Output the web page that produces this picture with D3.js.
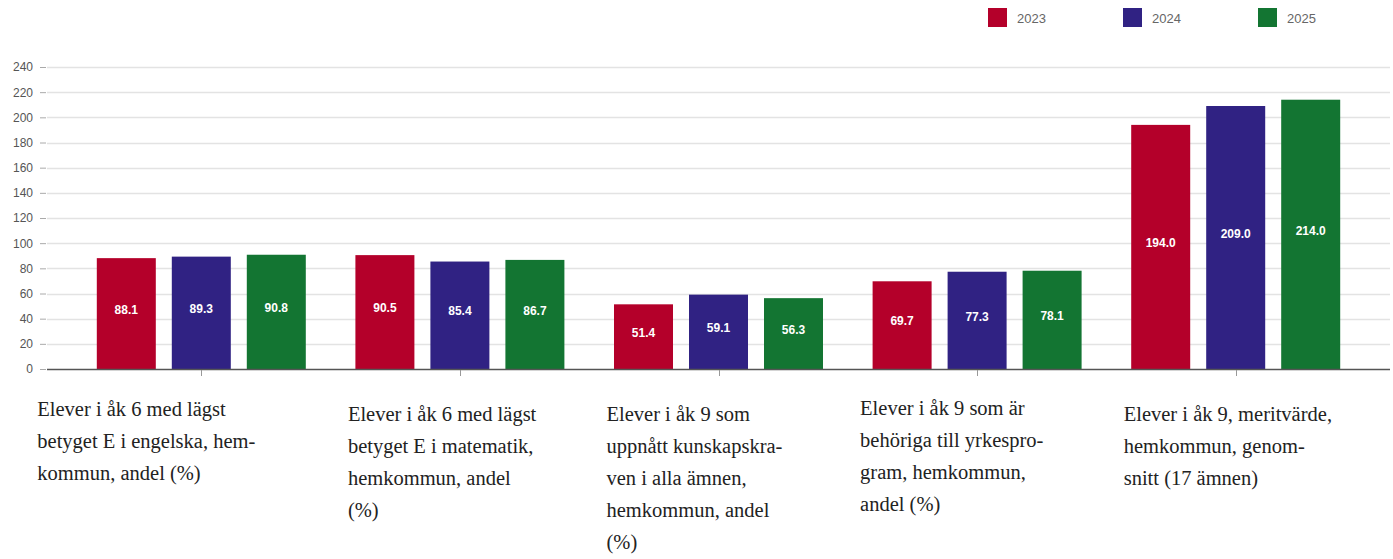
<!DOCTYPE html>
<html lang="sv">
<head>
<meta charset="utf-8">
<title>Elever, hemkommun</title>
<script src="https://d3js.org/d3.v7.min.js"></script>
<style>
  body { margin: 0; background: #fff; }
  .tick text { font-family: "Liberation Sans", Arial, sans-serif; font-size: 12px; fill: #555; }
  .catlabel { font-family: "Liberation Serif", "Times New Roman", serif; font-size: 20.5px; fill: #222; }
  .val { font-family: "Liberation Sans", Arial, sans-serif; font-size: 12px; font-weight: bold; fill: #fff; }
  .legend text { font-family: "Liberation Sans", Arial, sans-serif; font-size: 13px; fill: #666; }
</style>
</head>
<body>
<div id="chart"></div>
<script>
// data
var categories = ["c1", "c2", "c3", "c4", "c5"];
var categoryLabels = [
  ["Elever i åk 6 med lägst", "betyget E i engelska, hem-", "kommun, andel (%)"],
  ["Elever i åk 6 med lägst", "betyget E i matematik,", "hemkommun, andel", "(%)"],
  ["Elever i åk 9 som", "uppnått kunskapskra-", "ven i alla ämnen,", "hemkommun, andel", "(%)"],
  ["Elever i åk 9 som är", "behöriga till yrkespro-", "gram, hemkommun,", "andel (%)"],
  ["Elever i åk 9, meritvärde,", "hemkommun, genom-", "snitt (17 ämnen)"]
];
var years = ["2023", "2024", "2025"];
var values2023 = [88.1, 90.5, 51.4, 69.7, 194.0];
var values2024 = [89.3, 85.4, 59.1, 77.3, 209.0];
var values2025 = [90.8, 86.7, 56.3, 78.1, 214.0];
var yTicks = [0, 20, 40, 60, 80, 100, 120, 140, 160, 180, 200, 220, 240];
var colors = ["#b4002a", "#302283", "#137532"];

var series = [values2023, values2024, values2025];

// layout
var W = 1393, H = 559;
var mLeft = 47, mRight = 1390, mTop = 67, mBottom = 369;
var labelDx = [-164, -112, -112, -117, -112];
var labelDy = [416, 421, 421, 415, 421];
var lineH = 32;

var svg = d3.select("#chart").append("svg")
  .attr("width", W).attr("height", H);

var y = d3.scaleLinear().domain([0, 240]).range([mBottom, mTop]);
var x0 = d3.scaleBand().domain(categories).range([72, 1365]);
var x1 = d3.scaleBand().domain(years).range([0, 225])
  .paddingInner(16 / 75).paddingOuter(0.1067);

// grid
svg.append("g").selectAll("line")
  .data(yTicks.slice(1))
  .enter().append("line")
  .attr("x1", mLeft).attr("x2", mRight)
  .attr("y1", function(d) { return Math.round(y(d)) + 0.5; })
  .attr("y2", function(d) { return Math.round(y(d)) + 0.5; })
  .attr("stroke", "#e3e3e3").attr("stroke-width", 1.5);

// y axis
var yAxis = svg.append("g")
  .attr("transform", "translate(" + (mLeft - 1) + ",0)")
  .call(d3.axisLeft(y).tickValues(yTicks).tickSize(6).tickPadding(7));
yAxis.select(".domain").remove();
yAxis.selectAll(".tick line").attr("stroke", "#aaa");

// bars
var groups = svg.append("g").selectAll("g")
  .data(categories)
  .enter().append("g")
  .attr("transform", function(d) {
    return "translate(" + (x0(d) + x0.bandwidth() / 2 - 112.5) + ",0)";
  });

groups.each(function(c, i) {
  var g = d3.select(this);
  years.forEach(function(yr, j) {
    var v = series[j][i];
    g.append("rect")
      .attr("x", x1(yr))
      .attr("y", y(v))
      .attr("width", x1.bandwidth())
      .attr("height", mBottom - y(v))
      .attr("fill", colors[j]);
    g.append("text")
      .attr("class", "val")
      .attr("x", x1(yr) + x1.bandwidth() / 2)
      .attr("y", (y(v) + mBottom) / 2 - 4)
      .attr("dy", "0.35em")
      .attr("text-anchor", "middle")
      .text(v.toFixed(1));
  });
});

// baseline + category ticks
svg.append("line")
  .attr("x1", mLeft).attr("x2", mRight)
  .attr("y1", mBottom + 0.5).attr("y2", mBottom + 0.5)
  .attr("stroke", "#555").attr("stroke-width", 1.5);
svg.append("g").selectAll("line")
  .data(categories)
  .enter().append("line")
  .attr("x1", function(d) { return Math.round(x0(d) + x0.bandwidth() / 2) + 0.5; })
  .attr("x2", function(d) { return Math.round(x0(d) + x0.bandwidth() / 2) + 0.5; })
  .attr("y1", mBottom + 1).attr("y2", mBottom + 7)
  .attr("stroke", "#999");

// category labels
categories.forEach(function(c, i) {
  var lx = x0(c) + x0.bandwidth() / 2 + labelDx[i];
  var t = svg.append("text")
    .attr("class", "catlabel")
    .attr("x", lx)
    .attr("y", labelDy[i]);
  categoryLabels[i].forEach(function(line, k) {
    t.append("tspan")
      .attr("x", lx)
      .attr("dy", k === 0 ? 0 : lineH)
      .text(line);
  });
});

// legend
var legend = svg.append("g").attr("class", "legend");
years.forEach(function(yr, j) {
  var lx = 988 + j * 135;
  legend.append("rect")
    .attr("x", lx).attr("y", 8)
    .attr("width", 19).attr("height", 19)
    .attr("fill", colors[j]);
  legend.append("text")
    .attr("x", lx + 29).attr("y", 18)
    .attr("dy", "0.35em")
    .text(yr);
});
</script>
</body>
</html>
